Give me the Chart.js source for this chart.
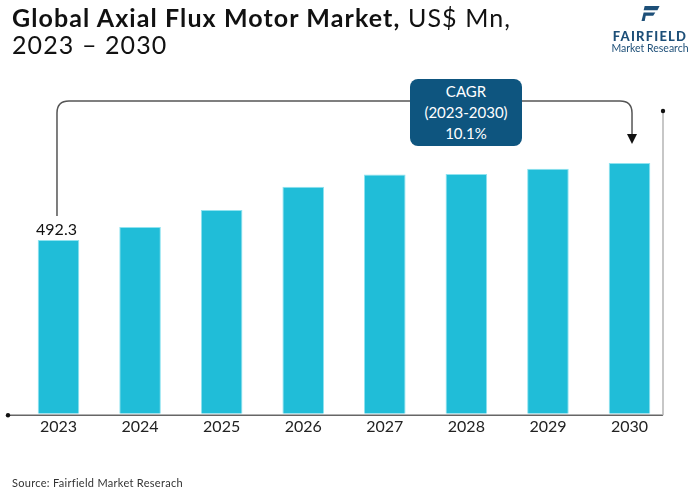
<!DOCTYPE html>
<html>
<head>
<meta charset="utf-8">
<script src="https://cdn.jsdelivr.net/npm/chart.js@4"></script>
<style>
  body { margin: 0; background: #fff; }
  #wrap { position: relative; width: 700px; height: 491px; overflow: hidden; font-family: Lato, "Noto Sans", sans-serif; }
  #title { position: absolute; left: 12px; top: 4px; font-size: 25px; line-height: 27px; letter-spacing: 1.1px; color: #111; }
  #title b { font-weight: 700; }
  #logo { position: absolute; left: 600px; top: 5px; width: 100px; text-align: center; color: #1d4f78; }
  #logo .f { font-weight: 900; font-size: 13px; letter-spacing: 1.2px; margin-top: 3px; }
  #logo .m { font-size: 10.5px; margin-top: -2px; }
  #cagr { position: absolute; left: 410px; top: 79px; width: 112px; height: 67px; background: #0e557f; border-radius: 8px;
          color: #fff; text-align: center; font-size: 15px; line-height: 21px; padding-top: 2px; box-sizing: border-box; }
  #source { position: absolute; left: 12px; top: 476px; font-size: 11px; letter-spacing: 0.3px; color: #333; }
  canvas { position: absolute; left: 0; top: 0; }
</style>
</head>
<body>
<div id="wrap">
  <canvas id="myChart" width="700" height="491"></canvas>
  <div id="title"><b>Global Axial Flux Motor Market,</b> US$ Mn,<br>2023 – 2030</div>
  <div id="logo">
    <svg width="22" height="17" viewBox="0 0 20 16"><path d="M5 1 H19 L17 5 H4 Z M4 7 H15 L13 10 H6 L5 15 H2 Z" fill="#1d4f78"/></svg>
    <div class="f">FAIRFIELD</div>
    <div class="m">Market Research</div>
  </div>
  <div id="cagr">CAGR<br>(2023-2030)<br>10.1%</div>
  <div id="source">Source: Fairfield Market Reserach</div>
</div>
<script>
var years = ['2023','2024','2025','2026','2027','2028','2029','2030'];
var market = [492.3, 529, 577, 643, 678, 679, 694, 710];

/* axis lines, bracket and first label */
var extras = {
  id: 'extras',
  afterDatasetsDraw: function(chart) {
    var c = chart.ctx;
    var x = chart.scales.x, y = chart.scales.y;
    var base = y.getPixelForValue(0);
    c.save();
    // bottom axis
    c.strokeStyle = '#666';
    c.lineWidth = 1.5;
    c.beginPath(); c.moveTo(8, base + 1.5); c.lineTo(663, base + 1.5); c.stroke();
    c.fillStyle = '#111';
    c.beginPath(); c.arc(8, base + 1.5, 2.2, 0, Math.PI * 2); c.fill();
    // right axis
    c.strokeStyle = '#b5b5b5';
    c.beginPath(); c.moveTo(663, 111); c.lineTo(663, base + 1.5); c.stroke();
    c.beginPath(); c.arc(663, 111, 2.2, 0, Math.PI * 2); c.fill();

    // value label of first bar
    var x0 = x.getPixelForValue(0);
    var top0 = y.getPixelForValue(market[0]);
    c.fillStyle = '#111';
    c.font = '16px Lato, "Noto Sans", sans-serif';
    c.textAlign = 'center';
    c.textBaseline = 'alphabetic';
    c.fillText(market[0].toFixed(1), x0 - 2, top0 - 5);

    // bracket from first to last bar
    var xl = x0 - 1.5, xr = x.getPixelForValue(years.length - 1) + 2.5;
    var yTop = 101, r = 12;
    c.strokeStyle = '#555';
    c.lineWidth = 1.5;
    c.beginPath();
    c.moveTo(xl, top0 - 24);
    c.lineTo(xl, yTop + r);
    c.quadraticCurveTo(xl, yTop, xl + r, yTop);
    c.lineTo(xr - r, yTop);
    c.quadraticCurveTo(xr, yTop, xr, yTop + r);
    c.lineTo(xr, 136);
    c.stroke();
    c.fillStyle = '#111';
    c.beginPath(); c.moveTo(xr - 5, 134); c.lineTo(xr + 5, 134); c.lineTo(xr, 144); c.closePath(); c.fill();
    c.restore();
  }
};

var ctx = document.getElementById('myChart');
var myChart = new Chart(ctx, {
  type: 'bar',
  data: {
    labels: years,
    datasets: [
      {
        data: market,
        backgroundColor: '#20bdd8',
        borderColor: '#8fe3f0',
        borderWidth: { top: 1, left: 1, right: 1, bottom: 0 },
        barPercentage: 0.51,
        categoryPercentage: 1
      }
    ]
  },
  options: {
    responsive: false,
    animation: false,
    layout: { padding: { left: 17.7, right: 29.7, top: 96, bottom: 52 } },
    plugins: { legend: { display: false }, tooltip: { enabled: false } },
    scales: {
      x: {
        grid: { display: false, drawTicks: false },
        border: { display: false },
        ticks: { color: '#222', font: { size: 16, family: 'Lato, "Noto Sans", sans-serif' }, padding: 3 }
      },
      y: {
        display: false,
        min: 0,
        max: 900
      }
    }
  },
  plugins: [extras]
});
</script>
</body>
</html>
